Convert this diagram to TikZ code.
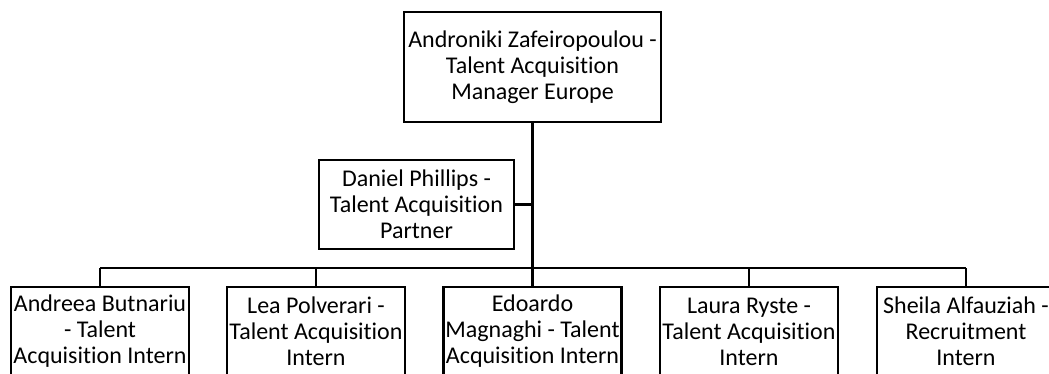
\documentclass[tikz,border=0pt]{standalone}
\usepackage{fontspec}
\setmainfont{Carlito}[Ligatures=NoCommon]
\begin{document}
\begin{tikzpicture}[x=1pt,y=-1pt,
  orgbox/.style={draw=black,line width=2.3pt,fill=white,rectangle,inner sep=0pt,
    align=center,font=\fontsize{24}{26}\selectfont},
  link/.style={draw=black,line width=2.3pt},
  trunk/.style={draw=black,line width=2.8pt}]
\useasboundingbox (0,0) rectangle (1049,374);
\clip (0,0) rectangle (1049,374);

% manager and partner
\node[orgbox,minimum width=257pt,minimum height=110pt] (mgr) at (532.5,67)
  {Androniki Zafeiropoulou -\\Talent Acquisition\\Manager Europe};
\node[orgbox,minimum width=195pt,minimum height=89pt] (dp) at (416.5,204.5)
  {Daniel Phillips -\\Talent Acquisition\\Partner};

% interns
\tikzset{intern/.style={orgbox,minimum width=178pt,minimum height=89pt}}
\node[intern] (b1) at (100,331.5) {Andreea Butnariu\\- Talent\\Acquisition Intern};
\node[intern] (b2) at (316,331.5) {Lea Polverari -\\Talent Acquisition\\Intern};
\node[intern] (b3) at (532.5,331.5) {Edoardo\\Magnaghi - Talent\\Acquisition Intern};
\node[intern] (b4) at (749,331.5) {Laura Ryste -\\Talent Acquisition\\Intern};
\node[intern] (b5) at (966,331.5) {Sheila Alfauziah -\\Recruitment\\Intern};

% connectors
\coordinate (bus) at (532.5,268);
\draw[trunk] (mgr.south) -- (bus);
\draw[link] (dp.east) -- (dp.east -| mgr.south);
\draw[link] (b1.north |- bus) -- (b5.north |- bus);
\foreach \b in {b1,b2,b3,b4,b5}
  \draw[link] (\b.north) -- (\b.north |- bus);
\end{tikzpicture}
\end{document}
